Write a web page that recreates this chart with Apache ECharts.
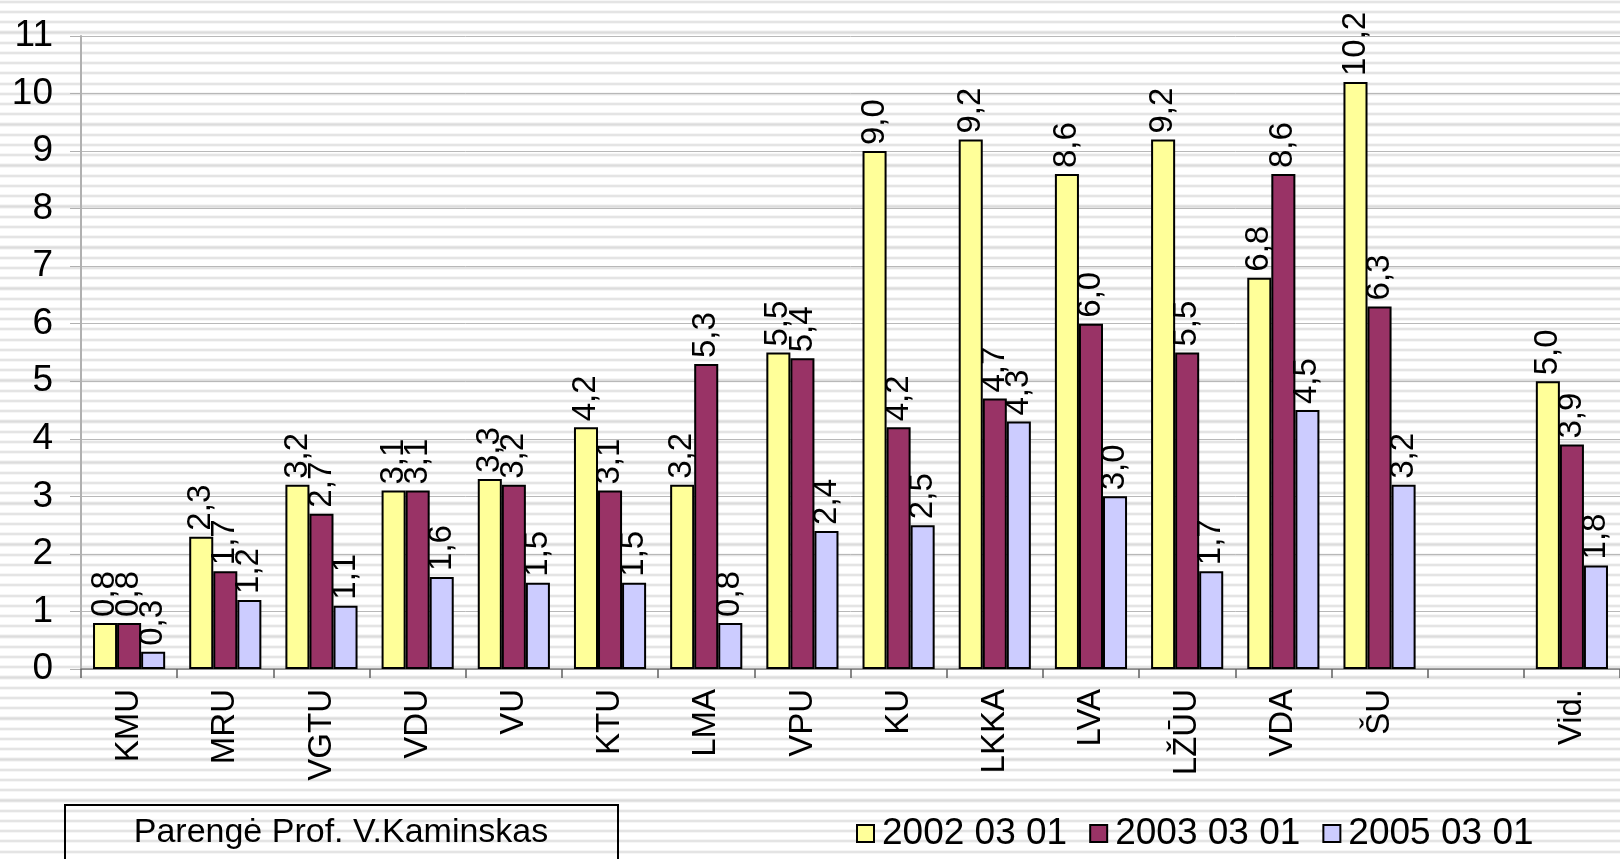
<!DOCTYPE html>
<html>
<head>
<meta charset="utf-8">
<script src="https://cdn.jsdelivr.net/npm/echarts@6/dist/echarts.min.js"></script>
<style>
  html, body { margin: 0; padding: 0; }
  body {
    width: 1620px; height: 859px; overflow: hidden;
    background-color: #ffffff;
    background-image: repeating-linear-gradient(to bottom,
      #ffffff 0px, #ffffff 5.6px,
      #ececec 5.6px, #ececec 6.6px,
      #dcdcdc 6.6px, #dcdcdc 7.8px,
      #ececec 7.8px, #ececec 8.8px,
      #ffffff 8.8px, #ffffff 10.24px);
    background-position: 0 -5.5px;
  }
  #chart { width: 1620px; height: 859px; }
</style>
</head>
<body>
<div id="chart"></div>
<script>
const categories = ['KMU', 'MRU', 'VGTU', 'VDU', 'VU', 'KTU', 'LMA', 'VPU', 'KU', 'LKKA', 'LVA', 'LŽŪU', 'VDA', 'ŠU', '', 'Vid.'];
const seriesNames = ['2002 03 01', '2003 03 01', '2005 03 01'];
const values2002 = [0.8, 2.3, 3.2, 3.1, 3.3, 4.2, 3.2, 5.5, 9.0, 9.2, 8.6, 9.2, 6.8, 10.2, null, 5.0];
const values2003 = [0.8, 1.7, 2.7, 3.1, 3.2, 3.1, 5.3, 5.4, 4.2, 4.7, 6.0, 5.5, 8.6, 6.3, null, 3.9];
const values2005 = [0.3, 1.2, 1.1, 1.6, 1.5, 1.5, 0.8, 2.4, 2.5, 4.3, 3.0, 1.7, 4.5, 3.2, null, 1.8];
const colors = ['#FFFF99', '#993366', '#CCCCFF'];
const noteText = 'Parengė Prof. V.Kaminskas';

const FONT = '"Liberation Sans", Arial, sans-serif';
const allValues = [values2002, values2003, values2005];

const chart = echarts.init(document.getElementById('chart'));
chart.setOption({
  backgroundColor: 'transparent',
  animation: false,
  textStyle: { fontFamily: FONT },
  grid: { left: 81, top: 36, right: 0, bottom: 190, containLabel: false },
  legend: {
    left: 856,
    top: 815,
    padding: 0,
    itemWidth: 17,
    itemHeight: 17,
    itemGap: 22,
    icon: 'rect',
    textStyle: { fontSize: 37, color: '#000', fontFamily: FONT, padding: [0, 0, 0, 3] },
    itemStyle: { borderColor: '#000', borderWidth: 2 },
    data: seriesNames
  },
  xAxis: {
    type: 'category',
    data: categories,
    boundaryGap: true,
    axisLine: { show: true, lineStyle: { color: '#808080', width: 1.5 } },
    axisTick: { show: true, length: 9, lineStyle: { color: '#606060', width: 1.5 } },
    axisLabel: {
      interval: 0, rotate: 90, fontSize: 33, color: '#000', margin: 20, fontFamily: FONT
    }
  },
  yAxis: {
    type: 'value',
    min: 0, max: 11, interval: 1,
    axisLine: { show: true, lineStyle: { color: '#b0b0b0', width: 2 } },
    axisTick: { show: true, length: 11, lineStyle: { color: '#b0b0b0', width: 1 } },
    axisLabel: { fontSize: 37, color: '#000', margin: 28, fontFamily: FONT },
    splitLine: { show: true, lineStyle: { color: '#b8b8b8', width: 1 } }
  },
  series: seriesNames.map((name, i) => ({
    name: name,
    type: 'bar',
    data: allValues[i],
    barGap: '0%',
    barCategoryGap: '25%',
    itemStyle: { color: colors[i], borderColor: '#000', borderWidth: 2 },
    label: {
      show: true,
      position: 'top',
      rotate: 90,
      align: 'left',
      verticalAlign: 'middle',
      distance: 6,
      fontSize: 33,
      color: '#000',
      fontFamily: FONT,
      formatter: p => (p.value == null ? '' : p.value.toFixed(1).replace('.', ','))
    }
  })),
  graphic: [
    {
      type: 'rect',
      left: 64, top: 804,
      shape: { width: 553, height: 80 },
      style: { fill: 'transparent', stroke: '#000', lineWidth: 2 }
    },
    {
      type: 'text',
      x: 341, y: 833,
      style: {
        text: noteText, fontSize: 34, fill: '#000', fontFamily: FONT,
        textAlign: 'center', textVerticalAlign: 'middle'
      }
    }
  ]
});
</script>
</body>
</html>
